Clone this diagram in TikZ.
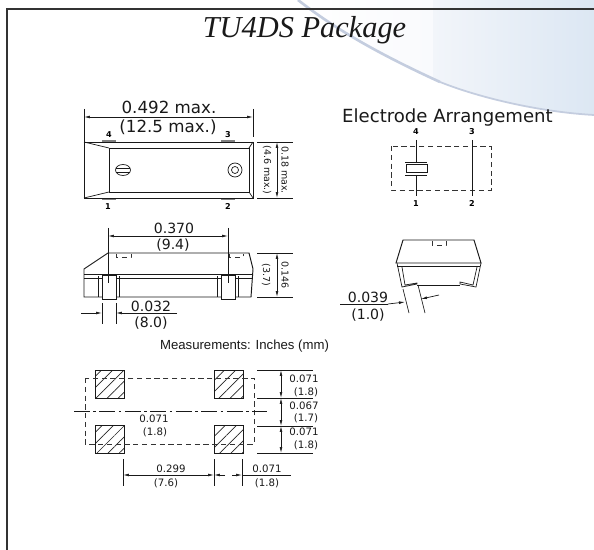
\documentclass[tikz,border=0pt]{standalone}
\usepackage{fontspec}
\setmainfont{DejaVu Sans}
\newfontfamily\titlefont{Liberation Serif}
\newfontfamily\captionfont{Liberation Sans}
\usetikzlibrary{arrows.meta, patterns.meta}
\definecolor{panelfaint}{HTML}{F9FAFD}
\definecolor{panelleft}{HTML}{F2F5FA}
\definecolor{panelright}{HTML}{DCE7F3}
\definecolor{sweepcolor}{HTML}{C4CDDF}
\definecolor{framecolor}{HTML}{333333}
\tikzset{
  >={Latex[length=3.4pt,width=1.6pt]},
  outline/.style={line width=0.55pt, black!90},
  thinline/.style={line width=0.4pt, black!90},
  hiddenline/.style={line width=0.45pt, black!80, densely dashed},
  dimline/.style={line width=0.4pt, black!90},
  bigtext/.style={font=\fontsize{9.5}{10}\selectfont, text=black!90, inner sep=0pt},
  midtext/.style={font=\fontsize{8}{9}\selectfont, text=black!90, inner sep=0pt},
  smalltext/.style={font=\fontsize{5.8}{7}\selectfont, text=black!90, inner sep=0pt},
  sidetext/.style={font=\fontsize{5.4}{6}\selectfont, text=black!90, inner sep=0pt, rotate=-90},
  pinlabel/.style={font=\fontsize{4.6}{5}\selectfont\bfseries, inner sep=0pt},
  landpad/.style={draw=black!90, line width=0.55pt, pattern={Lines[angle=45,distance=4.5pt,line width=0.4pt]}, pattern color=black!85},
}

\begin{document}
\begin{tikzpicture}[x=0.02cm, y=-0.02cm]
\useasboundingbox (0, 0) rectangle (594, 550);
% background panel
\begin{scope}
\clip (298, 0) .. controls (330, 25) and (370, 50) .. (440, 82) .. controls (480, 98) and (540, 112) .. (594, 115) -- (594, 0) -- cycle;
\fill[left color=white, right color=panelfaint] (298, 0) rectangle (433, 116);
\fill[left color=panelleft, right color=panelright] (433, 0) rectangle (594, 116);
\end{scope}
\draw[sweepcolor, line width=1.5pt] (298, 0) .. controls (330, 25) and (370, 50) .. (440, 82);
\draw[sweepcolor, line width=1pt] (440, 82) .. controls (480, 98) and (540, 112) .. (594, 115);
% frame
\draw[framecolor, line width=1.4pt] (594, 9) -- (7, 9) -- (7, 550);
\node[font=\titlefont\itshape\fontsize{17.3}{20}\selectfont, text=black!90, inner sep=0pt] (title) at (304.5, 30) {TU4DS Package};

% top view
\fill[black!50] (102, 140) rectangle (116, 142);
\fill[black!50] (221, 140) rectangle (235, 142);
\fill[black!50] (102, 198) rectangle (116, 200);
\fill[black!50] (221, 198) rectangle (235, 200);
\draw[outline] (84, 142) rectangle (253, 198);
\draw[outline] (109, 148) rectangle (249, 192);
\draw[thinline] (84, 142) -- (109, 148);
\draw[thinline] (84, 198) -- (109, 192);
\draw[thinline] (253, 142) -- (249, 148);
\draw[thinline] (253, 198) -- (249, 192);
\draw[thinline] (123, 170) ellipse (7.5 and 5.5);
\draw[thinline] (116, 168) -- (130, 168);
\draw[thinline] (116, 172) -- (130, 172);
\draw[thinline] (235, 170) circle (7);
\draw[thinline] (235, 170) circle (3.5);
\node[pinlabel] (pinD) at (109, 135) {4};
\node[pinlabel] (pinC) at (228, 135) {3};
\node[pinlabel] (pinA) at (108, 207) {1};
\node[pinlabel] (pinB) at (228, 207) {2};
% top view lengths
\draw[dimline] (84, 109) -- (84, 142);
\draw[dimline] (253, 109) -- (253, 137);
\draw[<->, dimline] (84, 117) -- (253, 117);
\node[bigtext] (lenmax) at (169, 107) {0.492 max.};
\node[bigtext] (lenmaxmm) at (168, 127) {(12.5 max.)};
\draw[dimline] (257, 142) -- (293, 142);
\draw[dimline] (257, 198) -- (293, 198);
\draw[<->, dimline] (277, 142) -- (277, 198);
\node[sidetext] (widmm) at (267, 170) {(4.6 max.)};
\node[sidetext] (widmax) at (285, 170) {0.18 max.};

% side view
\draw[outline] (84, 297) -- (84, 269) -- (108, 253) -- (249, 253) -- (253, 269) -- (251, 297) -- cycle;
\draw[outline] (84, 274) -- (253, 274);
\draw[thinline] (84, 278) -- (253, 278);
\foreach \padx in {98, 119, 217, 238} {
  \draw[thinline] (\padx, 276) -- (\padx, 297);
}
\foreach \padx in {102, 221} {
  \draw[outline, fill=white] (\padx, 275) rectangle (\padx + 14, 299);
}
\draw[hiddenline] (116, 254) -- (116, 257) -- (131, 257) -- (131, 254);
\draw[hiddenline] (229, 254) -- (229, 257) -- (243, 257) -- (243, 254);
% side view lengths
\draw[dimline] (108, 228) -- (108, 283);
\draw[dimline] (228, 228) -- (228, 283);
\draw[<->, dimline] (108, 236) -- (228, 236);
\node[midtext] (lenbody) at (174, 228) {0.370};
\node[midtext] (lenbodymm) at (173, 245) {(9.4)};
\draw[dimline] (257, 253) -- (293, 253);
\draw[dimline] (257, 297) -- (293, 297);
\draw[<->, dimline] (277, 253) -- (277, 297);
\node[sidetext] (highmm) at (266, 275) {(3.7)};
\node[sidetext] (high) at (285, 275) {0.146};
\draw[dimline] (102, 303) -- (102, 324);
\draw[dimline] (116, 303) -- (116, 324);
\draw[->, dimline] (81, 313) -- (102, 313);
\draw[->, dimline] (177, 313) -- (116, 313);
\node[midtext] (padlen) at (151, 306) {0.032};
\node[midtext] (padlenmm) at (151, 323) {(8.0)};

% electrodes
\node[bigtext, font=\fontsize{10.3}{11}\selectfont] (electrode) at (447.5, 118) {Electrode Arrangement};
\draw[hiddenline] (391, 146) rectangle (491, 190);
\draw[thinline] (416, 140) -- (416, 162);
\draw[thinline] (416, 175) -- (416, 196);
\draw[thinline] (405, 162) -- (427, 162);
\draw[thinline] (405, 175) -- (427, 175);
\draw[thinline] (406, 164) rectangle (427, 172);
\draw[thinline] (472, 140) -- (472, 196);
\node[pinlabel] (elecD) at (416, 132) {4};
\node[pinlabel] (elecC) at (472, 132) {3};
\node[pinlabel] (elecA) at (416, 204) {1};
\node[pinlabel] (elecB) at (472, 204) {2};

% end view
\draw[outline] (396, 263) -- (403, 240) -- (474, 240) -- (481, 263) -- cycle;
\draw[outline] (397, 266) -- (480, 266);
\draw[hiddenline] (432, 241) -- (432, 245) -- (446, 245) -- (446, 241);
\draw[thinline] (397, 263) -- (402, 287) -- (417, 284) -- (417, 283) -- (405, 285) -- (402, 267);
\draw[thinline] (481, 263) -- (476, 287) -- (460, 284) -- (460, 282) -- (473, 285) -- (477, 267);
\draw[outline] (417, 285) -- (460, 285);
% end view lengths
\draw[dimline] (403, 289) -- (409, 313);
\draw[dimline] (418, 285) -- (425, 313);
\draw[dimline] (340, 304) -- (388, 304);
\draw[->, dimline] (388, 304) -- (405, 302);
\draw[->, dimline] (439, 295) -- (421, 299);
\node[midtext] (legwid) at (368, 297) {0.039};
\node[midtext] (legwidmm) at (368, 315) {(1.0)};

% land pattern
\node[midtext, font=\captionfont\fontsize{7.5}{9}\selectfont] (measure) at (244.5, 346) {Measurements: Inches (mm)};
\foreach \padx in {95, 214} {
  \foreach \pady in {370, 425} {
    \draw[landpad] (\padx, \pady) rectangle (\padx + 29, \pady + 28);
  }
}
\draw[hiddenline] (85, 378) rectangle (254, 444);
\draw[thinline, dash pattern=on 9pt off 2pt on 1.5pt off 2pt] (74, 411) -- (267, 411);
\node[smalltext] (gapmid) at (154, 419) {0.071};
\node[smalltext] (gapmidmm) at (155, 432) {(1.8)};
% land pattern lengths
\foreach \ruley in {370, 398, 426, 453} {
  \draw[dimline] (257, \ruley) -- (313, \ruley);
}
\draw[<->, dimline] (281, 370) -- (281, 398);
\draw[<->, dimline] (281, 398) -- (281, 426);
\draw[<->, dimline] (281, 426) -- (281, 453);
\node[smalltext] (padA) at (304, 379) {0.071};
\node[smalltext] (padAmm) at (306, 392) {(1.8)};
\node[smalltext] (gapB) at (304, 406) {0.067};
\node[smalltext] (gapBmm) at (306, 418) {(1.7)};
\node[smalltext] (padC) at (304, 432) {0.071};
\node[smalltext] (padCmm) at (306, 445) {(1.8)};
\foreach \rulex in {123, 214, 242} {
  \draw[dimline] (\rulex, 459) -- (\rulex, 486);
}
\draw[<->, dimline] (123, 475) -- (214, 475);
\draw[->, dimline] (225, 475) -- (214, 475);
\draw[->, dimline] (232, 475) -- (242, 475);
\draw[dimline] (242, 475) -- (291, 475);
\node[smalltext] (pitch) at (171, 469) {0.299};
\node[smalltext] (pitchmm) at (166, 483) {(7.6)};
\node[smalltext] (padwid) at (267, 469) {0.071};
\node[smalltext] (padwidmm) at (267, 483) {(1.8)};
\end{tikzpicture}
\end{document}
